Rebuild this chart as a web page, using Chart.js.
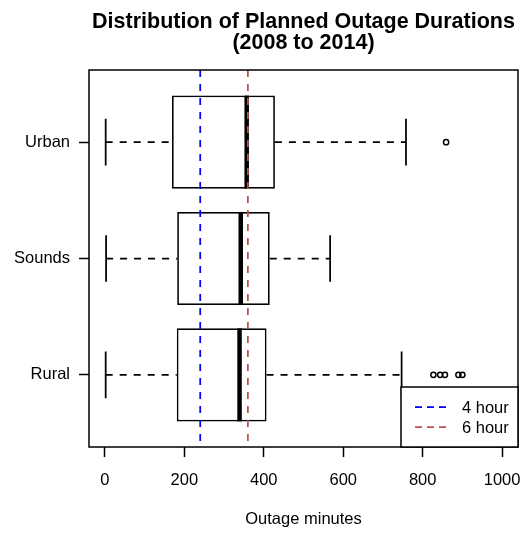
<!DOCTYPE html>
<html>
<head>
<meta charset="utf-8">
<script src="https://cdn.jsdelivr.net/npm/chart.js@4.4.0/dist/chart.umd.min.js"></script>
<style>
  html, body { margin: 0; padding: 0; background: #fff; }
</style>
</head>
<body>
<canvas id="myChart" width="526" height="533"></canvas>
<script>
// box statistics (minutes)
const regions = ["Urban", "Sounds", "Rural"];
const whiskLow = [2, 3, 2];
const q1 = [169, 182, 181];
const medians = [357, 342, 339];
const q3 = [428, 415, 407];
const whiskHigh = [758, 567, 747];
const outUrban = [859];
const outSounds = [];
const outRural = [827, 844, 856, 890, 900];
const refMinutes = [240, 360];
const refLabels = ["4 hour", "6 hour"];
const refColors = ["#0000ff", "#c0504d"];
const xTicks = [0, 200, 400, 600, 800, 1000];

const FONT = "'Liberation Sans', Arial, Helvetica, sans-serif";

const outliers = [];
[outUrban, outSounds, outRural].forEach((arr, i) => {
  arr.forEach((v) => outliers.push({ x: v, y: i + 1 }));
});

// whiskers, staples and medians drawn right after the boxes
const boxExtras = {
  id: "boxExtras",
  afterDatasetDraw(chart, args) {
    if (args.index !== 0) return;
    const { ctx } = chart;
    const x = chart.scales.x;
    const y = chart.scales.y;
    ctx.save();
    ctx.strokeStyle = "#000";
    regions.forEach((r, i) => {
      const yc = y.getPixelForValue(i + 1);
      const staple = Math.abs(y.getPixelForValue(i + 1.2) - yc);
      const boxHalf = Math.abs(y.getPixelForValue(i + 1.4) - yc);
      // dashed whiskers
      ctx.lineWidth = 1.75;
      ctx.setLineDash([7, 7]);
      ctx.beginPath();
      ctx.moveTo(x.getPixelForValue(whiskLow[i]), yc);
      ctx.lineTo(x.getPixelForValue(q1[i]), yc);
      ctx.moveTo(x.getPixelForValue(q3[i]), yc);
      ctx.lineTo(x.getPixelForValue(whiskHigh[i]), yc);
      ctx.stroke();
      // staples
      ctx.setLineDash([]);
      ctx.lineWidth = 1.75;
      ctx.beginPath();
      [whiskLow[i], whiskHigh[i]].forEach((v) => {
        const px = x.getPixelForValue(v);
        ctx.moveTo(px, yc - staple);
        ctx.lineTo(px, yc + staple);
      });
      ctx.stroke();
      // median
      ctx.lineWidth = 4.5;
      ctx.lineCap = "butt";
      ctx.beginPath();
      const mx = x.getPixelForValue(medians[i]);
      ctx.moveTo(mx, yc - boxHalf);
      ctx.lineTo(mx, yc + boxHalf);
      ctx.stroke();
    });
    ctx.restore();
  },
};

// frame + legend in the bottom right corner
const frameLegend = {
  id: "frameLegend",
  afterDraw(chart) {
    const { ctx, chartArea } = chart;
    ctx.save();
    ctx.strokeStyle = "#000";
    ctx.lineWidth = 1.5;
    ctx.strokeRect(chartArea.left, chartArea.top,
      chartArea.right - chartArea.left, chartArea.bottom - chartArea.top);

    const w = 117, h = 60;
    const left = chartArea.right - w;
    const top = chartArea.bottom - h;
    ctx.fillStyle = "#fff";
    ctx.fillRect(left, top, w, h);
    ctx.strokeRect(left, top, w, h);
    ctx.font = "16.5px " + FONT;
    ctx.textBaseline = "middle";
    ctx.textAlign = "left";
    refLabels.forEach((lab, i) => {
      const yy = top + 20 + i * 20;
      ctx.strokeStyle = refColors[i];
      ctx.lineWidth = 1.75;
      ctx.setLineDash([7, 5]);
      ctx.beginPath();
      ctx.moveTo(left + 14, yy);
      ctx.lineTo(left + 47, yy);
      ctx.stroke();
      ctx.setLineDash([]);
      ctx.fillStyle = "#000";
      ctx.fillText(lab, left + 61, yy + 1);
    });
    ctx.restore();
  },
};

const refSets = refMinutes.map((m, i) => ({
  type: "line",
  label: refLabels[i],
  data: [{ x: m, y: 0.38 }, { x: m, y: 3.62 }],
  borderColor: refColors[i],
  borderWidth: 1.75,
  borderDash: [7, 7],
  pointRadius: 0,
  fill: false,
  order: 1,
}));

const ctx = document.getElementById("myChart");
new Chart(ctx, {
  type: "bar",
  data: {
    datasets: [
      {
        type: "bar",
        label: "box",
        indexAxis: "y",
        data: regions.map((r, i) => ({ x: [q1[i], q3[i]], y: i + 1 })),
        backgroundColor: "#fff",
        borderColor: "#000",
        borderWidth: 1.75,
        borderSkipped: false,
        barPercentage: 0.8,
        categoryPercentage: 1,
        order: 3,
      },
      {
        type: "scatter",
        label: "outliers",
        data: outliers,
        pointStyle: "circle",
        pointRadius: 2.6,
        borderColor: "#000",
        backgroundColor: "rgba(0,0,0,0)",
        borderWidth: 1.5,
        order: 2,
      },
      ...refSets,
    ],
  },
  options: {
    responsive: false,
    animation: false,
    devicePixelRatio: 1,
    layout: { padding: { left: 0, right: 8, top: 0, bottom: 0 } },
    plugins: {
      legend: { display: false },
      tooltip: { enabled: false },
      title: {
        display: true,
        fullSize: false,
        text: ["Distribution of Planned Outage Durations", "(2008 to 2014)"],
        color: "#000",
        font: { family: FONT, size: 21.5, weight: "bold", lineHeight: 1.0 },
        padding: { top: 11, bottom: 16 },
      },
    },
    scales: {
      x: {
        type: "linear",
        position: "bottom",
        offset: false,
        min: -40,
        max: 1040,
        afterBuildTicks: (scale) => {
          scale.ticks = xTicks.map((v) => ({ value: v }));
        },
        afterFit: (scale) => {
          scale.height = 86;
          scale.paddingLeft = 0;
          scale.paddingRight = 0;
        },
        ticks: {
          color: "#000",
          padding: 14,
          maxRotation: 0,
          font: { family: FONT, size: 16.5 },
          callback: (v) => String(v),
        },
        grid: {
          offset: false,
          drawOnChartArea: false,
          drawTicks: true,
          tickLength: 10,
          tickColor: "#000",
          tickWidth: 1.5,
        },
        border: { display: false },
        title: {
          display: true,
          text: "Outage minutes",
          color: "#000",
          font: { family: FONT, size: 16.5 },
          padding: { top: 0, bottom: 4 },
        },
      },
      y: {
        type: "linear",
        position: "left",
        offset: false,
        min: 0.38,
        max: 3.62,
        reverse: true,
        afterBuildTicks: (scale) => {
          scale.ticks = regions.map((r, i) => ({ value: i + 1 }));
        },
        afterFit: (scale) => {
          scale.width = 89;
          scale.paddingTop = 0;
          scale.paddingBottom = 0;
        },
        ticks: {
          color: "#000",
          padding: 9,
          font: { family: FONT, size: 16.5 },
          callback: (v) => regions[v - 1],
        },
        grid: {
          offset: false,
          drawOnChartArea: false,
          drawTicks: true,
          tickLength: 10,
          tickColor: "#000",
          tickWidth: 1.5,
        },
        border: { display: false },
      },
    },
  },
  plugins: [boxExtras, frameLegend],
});
</script>
</body>
</html>
